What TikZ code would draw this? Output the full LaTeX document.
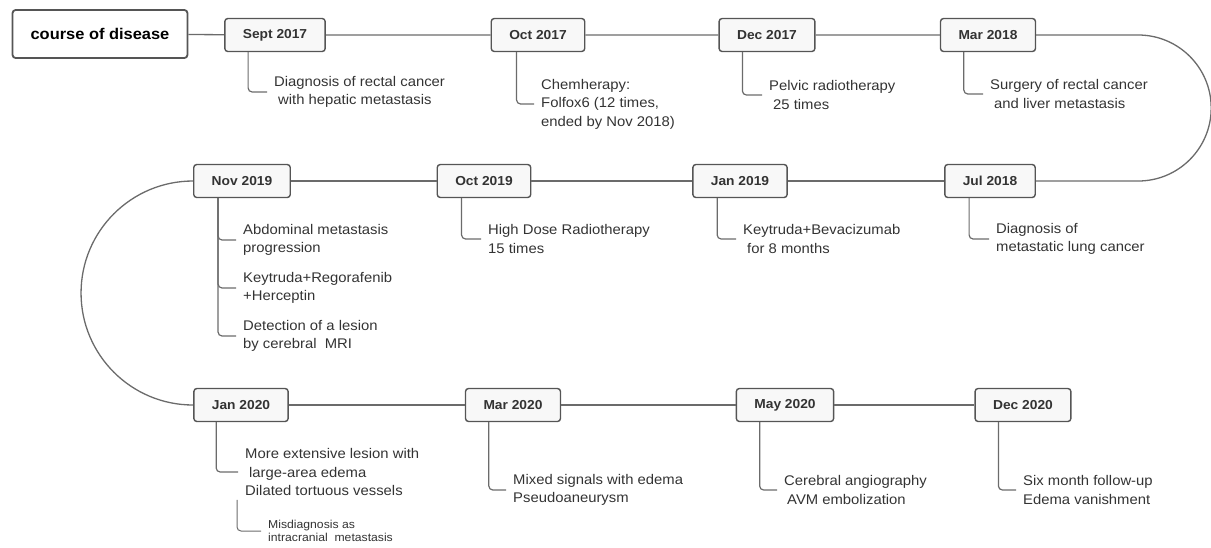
\documentclass[tikz,border=0pt]{standalone}
\usepackage{fontspec}
\setmainfont{Liberation Sans}[FakeStretch=1.06]
\definecolor{linegray}{HTML}{6B6B6B}
\definecolor{boxgray}{HTML}{555555}
\definecolor{boxfill}{HTML}{F8F8F8}
\definecolor{textgray}{HTML}{333333}
\tikzset{
	titlebox/.style={draw=boxgray, line width=1.8pt, rounded corners=3pt, fill=white, inner xsep=18pt, minimum height=48pt, font=\fontsize{15.5}{18}\selectfont\bfseries, text=black},
	datebox/.style={draw=boxgray, line width=1.4pt, rounded corners=3pt, fill=boxfill, inner xsep=18pt, minimum height=33pt, font=\fontsize{13}{15}\selectfont\bfseries, text=textgray},
	note/.style={anchor=west, align=left, inner xsep=7pt, inner ysep=0pt, font=\fontsize{14}{18.5}\selectfont, text=textgray},
	smallnote/.style={note, font=\fontsize{11.5}{13}\selectfont},
	timeline/.style={draw=linegray, line width=1.3pt},
	branch/.style={draw=linegray, line width=1.2pt, rounded corners=4pt}
}
\begin{document}
\begin{tikzpicture}[x=1pt, y=-1pt]
	\useasboundingbox (0,0) rectangle (1211,547);
	
	\node[titlebox] (course) at (100, 34)  {course of disease};
	
	\node[datebox] (sep17) at (275, 35)   {Sept 2017};
	\node[datebox] (oct17) at (538, 35)   {Oct 2017};
	\node[datebox] (dec17) at (767, 35)   {Dec 2017};
	\node[datebox] (mar18) at (988, 35)   {Mar 2018};
	
	\node[datebox] (jul18) at (990, 181)  {Jul 2018};
	\node[datebox] (jan19) at (740, 181)  {Jan 2019};
	\node[datebox] (oct19) at (484, 181)  {Oct 2019};
	\node[datebox] (nov19) at (242, 181)  {Nov 2019};
	
	\node[datebox] (jan20) at (241, 405)  {Jan 2020};
	\node[datebox] (mar20) at (513, 405)  {Mar 2020};
	\node[datebox] (may20) at (785, 405)  {May 2020};
	\node[datebox] (dec20) at (1023, 405) {Dec 2020};
	
	\node[note] (sep17t) at (267, 92)  {Diagnosis of rectal cancer\\\hspace{4pt}with hepatic metastasis};
	\node[note] (oct17t) at (534, 104) {Chemherapy:\\Folfox6 (12 times,\\ended by Nov 2018)};
	\node[note] (dec17t) at (762, 95)  {Pelvic radiotherapy\\\hspace{4pt}25 times};
	\node[note] (mar18t) at (983, 94)  {Surgery of rectal cancer\\\hspace{4pt}and liver metastasis};
	
	\node[note] (jul18t) at (989, 239) {Diagnosis of\\metastatic lung cancer};
	\node[note] (jan19t) at (736, 239) {Keytruda+Bevacizumab\\\hspace{4pt}for 8 months};
	\node[note] (oct19t) at (481, 239) {High Dose Radiotherapy\\15 times};
	\node[note] (nov19a) at (236, 240) {Abdominal metastasis\\progression};
	\node[note] (nov19b) at (236, 288) {Keytruda+Regorafenib\\+Herceptin};
	\node[note] (nov19c) at (236, 336) {Detection of a lesion\\by cerebral\ \ MRI};
	
	\node[note] (jan20t) at (238, 472) {More extensive lesion with\\\hspace{4pt}large-area edema\\Dilated tortuous vessels};
	\node[smallnote] (misd) at (261, 531) {Misdiagnosis as\\intracranial\ \ metastasis};
	\node[note] (mar20t) at (506, 490) {Mixed signals with edema\\Pseudoaneurysm};
	\node[note] (may20t) at (777, 490) {Cerebral angiography\\\hspace{3pt}AVM embolization};
	\node[note] (dec20t) at (1016, 490) {Six month follow-up\\Edema vanishment};
	
	% time line
	\draw[timeline] (course) -- (sep17) -- (oct17) -- (dec17) -- (mar18);
	\draw[timeline] (mar18.east) -- ++(102,0) arc[start angle=-90, end angle=90, radius=73] -- (jul18.east);
	\draw[timeline] (jul18) -- (jan19) -- (oct19) -- (nov19);
	\draw[timeline] (nov19.west) arc[start angle=-90, end angle=-270, radius=112] -- (jan20.west);
	\draw[timeline] (jan20) -- (mar20) -- (may20) -- (dec20);
	
	% branches
	\draw[branch] ([xshift=24pt]sep17.south west) |- (sep17t.west);
	\draw[branch] ([xshift=26pt]oct17.south west) |- (oct17t.west);
	\draw[branch] ([xshift=24pt]dec17.south west) |- (dec17t.west);
	\draw[branch] ([xshift=24pt]mar18.south west) |- (mar18t.west);
	\draw[branch] ([xshift=25pt]jul18.south west) |- (jul18t.west);
	\draw[branch] ([xshift=25pt]jan19.south west) |- (jan19t.west);
	\draw[branch] ([xshift=25pt]oct19.south west) |- (oct19t.west);
	\draw[branch] ([xshift=25pt]nov19.south west) |- (nov19a.west);
	\draw[branch] ([xshift=25pt]nov19.south west) |- (nov19b.west);
	\draw[branch] ([xshift=25pt]nov19.south west) |- (nov19c.west);
	\draw[branch] ([xshift=23pt]jan20.south west) |- (jan20t.west);
	\draw[branch, line width=1pt] ([xshift=-1pt,yshift=-4pt]jan20t.south west) |- (misd.west);
	\draw[branch] ([xshift=24pt]mar20.south west) |- (mar20t.west);
	\draw[branch] ([xshift=24pt]may20.south west) |- (may20t.west);
	\draw[branch] ([xshift=24pt]dec20.south west) |- (dec20t.west);
\end{tikzpicture}
\end{document}
